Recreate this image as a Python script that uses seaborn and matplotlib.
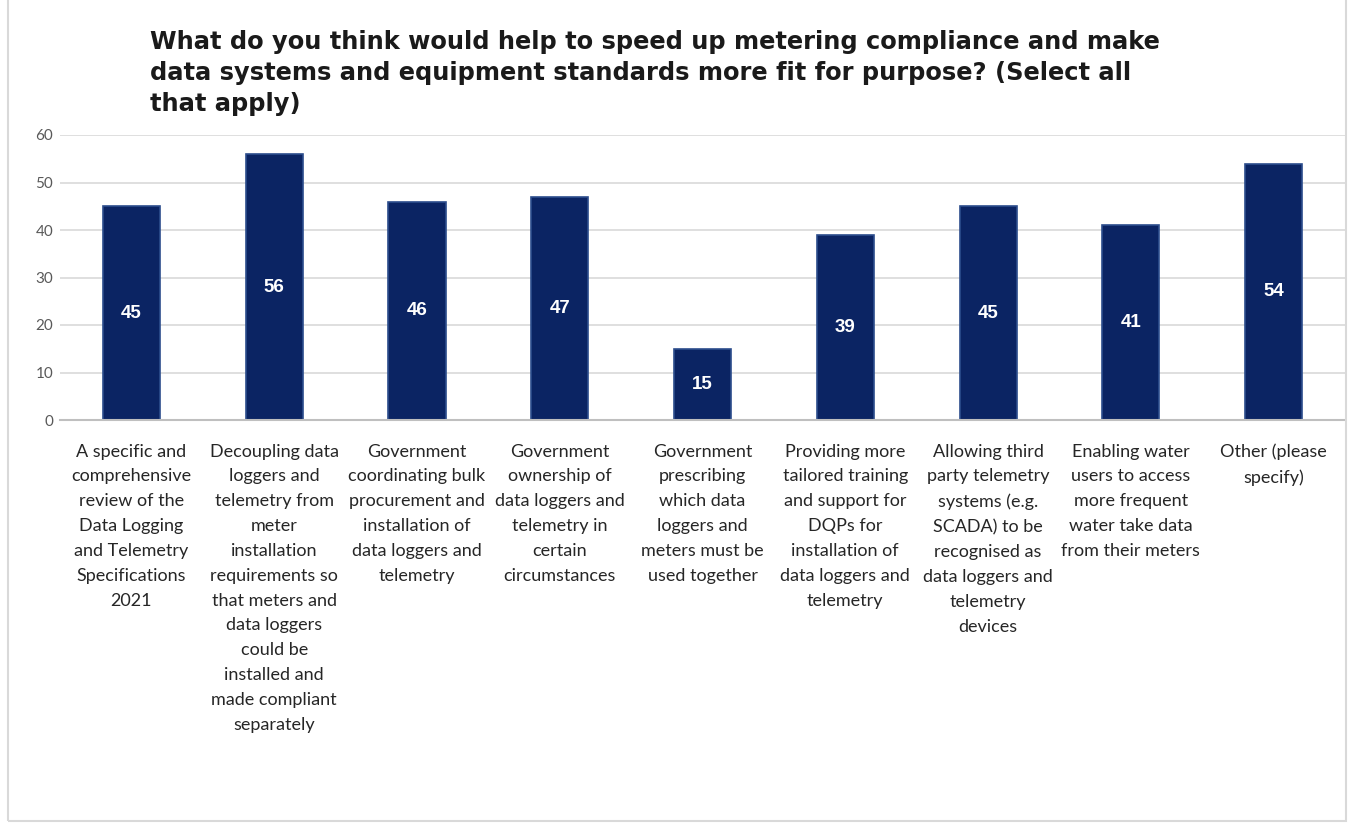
import matplotlib
matplotlib.use("Agg")
import matplotlib.pyplot as plt
from matplotlib.patches import Rectangle
import seaborn as sns
import pandas as pd

categories = [
    "A specific and\ncomprehensive\nreview of the\nData Logging\nand Telemetry\nSpecifications\n2021",
    "Decoupling data\nloggers and\ntelemetry from\nmeter\ninstallation\nrequirements so\nthat meters and\ndata loggers\ncould be\ninstalled and\nmade compliant\nseparately",
    "Government\ncoordinating bulk\nprocurement and\ninstallation of\ndata loggers and\ntelemetry",
    "Government\nownership of\ndata loggers and\ntelemetry in\ncertain\ncircumstances",
    "Government\nprescribing\nwhich data\nloggers and\nmeters must be\nused together",
    "Providing more\ntailored training\nand support for\nDQPs for\ninstallation of\ndata loggers and\ntelemetry",
    "Allowing third\nparty telemetry\nsystems (e.g.\nSCADA) to be\nrecognised as\ndata loggers and\ntelemetry\ndevices",
    "Enabling water\nusers to access\nmore frequent\nwater take data\nfrom their meters",
    "Other (please\nspecify)",
]
responses = [45, 56, 46, 47, 15, 39, 45, 41, 54]
y_ticks = [0, 10, 20, 30, 40, 50, 60]

title = ("What do you think would help to speed up metering compliance and make\n"
         "data systems and equipment standards more fit for purpose? (Select all\n"
         "that apply)")

sns.set_theme(style="white")
plt.rcParams["font.family"] = ["Lato", "DejaVu Sans"]

df = pd.DataFrame({"option": categories, "count": responses})

W, H = 1348, 827
fig = plt.figure(figsize=(W / 100, H / 100), dpi=100)
ax = fig.add_axes([60 / W, 1 - 420 / H, (1345 - 60) / W, (420 - 135) / H])

sns.barplot(data=df, x="option", y="count", ax=ax, color="#0b2463",
            width=0.4, saturation=1, edgecolor="#2c4d8c", linewidth=1.2,
            zorder=3)

ax.set_ylim(0, 60)
ax.set_yticks(y_ticks)
ax.set_xlim(-0.5, len(categories) - 0.5)
ax.yaxis.grid(True, color="#d9d9d9", linewidth=1.2, zorder=0)
ax.set_axisbelow(True)
for side in ["top", "right", "left"]:
    ax.spines[side].set_visible(False)
ax.spines["bottom"].set_color("#bfbfbf")
ax.spines["bottom"].set_linewidth(1.5)
ax.spines["bottom"].set_zorder(4)

ax.set_xlabel("")
ax.set_ylabel("")
ax.tick_params(axis="y", length=0, pad=5, labelsize=11, labelcolor="#595959")
ax.tick_params(axis="x", length=0, pad=17, labelsize=13, labelcolor="#262626")
for lbl in ax.get_xticklabels():
    lbl.set_linespacing(1.68)
    lbl.set_verticalalignment("top")

for container in ax.containers:
    ax.bar_label(container, labels=[str(v) for v in responses],
                 label_type="center", color="white", fontsize=13.5,
                 fontweight="bold", family=["Liberation Sans", "DejaVu Sans"])

fig.text(150 / W, 1 - 30 / H, title, ha="left", va="top", fontsize=17.4,
         fontweight="bold", color="#1a1a1a", linespacing=1.38,
         family=["DejaVu Sans"])

fig.patches.append(Rectangle((8, 6), 1338, 900, transform=None, fill=False,
                             edgecolor="#d9d9d9", linewidth=1.5))

fig.savefig("out.png", dpi=100)
